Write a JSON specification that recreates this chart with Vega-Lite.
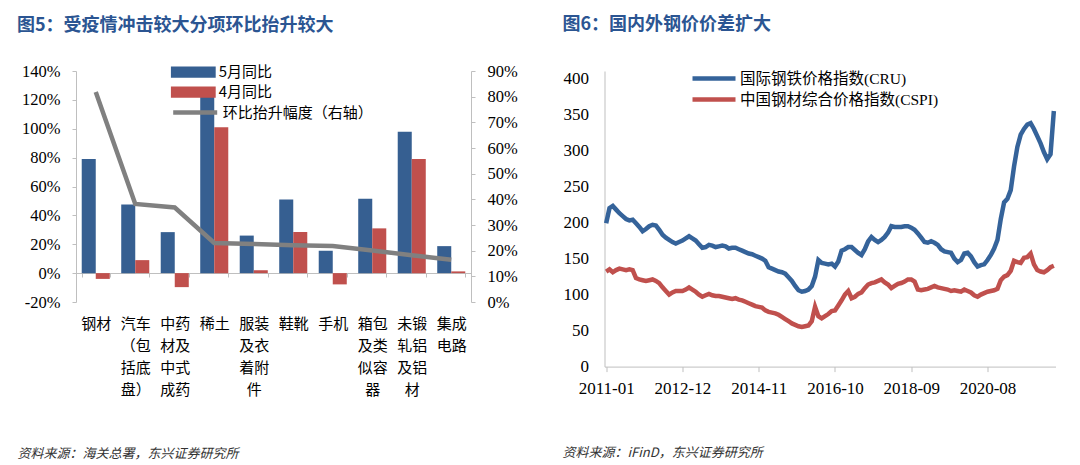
{
"$schema": "https://vega.github.io/schema/vega-lite/v6.json",
"background": "white",
"padding": {"left": 17, "top": 16, "right": 0, "bottom": 0},
"autosize": {"type": "pad"},
"bounds": "flush",
"spacing": 133.5,
"config": {"view": {"stroke": null}, "axis": {"grid": false, "domainColor": "#BFBFBF", "tickColor": "#BFBFBF", "labelColor": "#000000"}},
"resolve": {"scale": {"stroke": "independent"}, "legend": {"stroke": "independent"}},
"datasets": {
"bars": [
{"cat": "钢材", "series": "5月同比", "v": 79},
{"cat": "钢材", "series": "4月同比", "v": -4},
{"cat": "汽车（包括底盘）", "series": "5月同比", "v": 47.5},
{"cat": "汽车（包括底盘）", "series": "4月同比", "v": 9},
{"cat": "中药材及中式成药", "series": "5月同比", "v": 28.4},
{"cat": "中药材及中式成药", "series": "4月同比", "v": -9.7},
{"cat": "稀土", "series": "5月同比", "v": 126},
{"cat": "稀土", "series": "4月同比", "v": 101},
{"cat": "服装及衣着附件", "series": "5月同比", "v": 26},
{"cat": "服装及衣着附件", "series": "4月同比", "v": 2},
{"cat": "鞋靴", "series": "5月同比", "v": 51},
{"cat": "鞋靴", "series": "4月同比", "v": 28.5},
{"cat": "手机", "series": "5月同比", "v": 15.5},
{"cat": "手机", "series": "4月同比", "v": -7.8},
{"cat": "箱包及类似容器", "series": "5月同比", "v": 51.5},
{"cat": "箱包及类似容器", "series": "4月同比", "v": 31},
{"cat": "未锻轧铝及铝材", "series": "5月同比", "v": 98},
{"cat": "未锻轧铝及铝材", "series": "4月同比", "v": 79},
{"cat": "集成电路", "series": "5月同比", "v": 18.7},
{"cat": "集成电路", "series": "4月同比", "v": 1.2}
],
"hb": [
{"cat": "钢材", "hb": 81.8},
{"cat": "汽车（包括底盘）", "hb": 38.2},
{"cat": "中药材及中式成药", "hb": 36.8},
{"cat": "稀土", "hb": 23},
{"cat": "服装及衣着附件", "hb": 22.6},
{"cat": "鞋靴", "hb": 22.1},
{"cat": "手机", "hb": 21.8},
{"cat": "箱包及类似容器", "hb": 20.1},
{"cat": "未锻轧铝及铝材", "hb": 18.2},
{"cat": "集成电路", "hb": 16.5}
],
"steel": [
{"m":"2011-01","cru":199,"cspi":132},{"m":"2011-02","cru":220,"cspi":135},{"m":"2011-03","cru":223,"cspi":131},{"m":"2011-04","cru":218,"cspi":134},{"m":"2011-05","cru":213,"cspi":136},{"m":"2011-06","cru":209,"cspi":135},{"m":"2011-07","cru":205,"cspi":134},{"m":"2011-08","cru":203,"cspi":135},{"m":"2011-09","cru":204,"cspi":134},{"m":"2011-10","cru":199,"cspi":123},{"m":"2011-11","cru":194,"cspi":121},{"m":"2011-12","cru":188,"cspi":120},
{"m":"2012-01","cru":191,"cspi":119},{"m":"2012-02","cru":195,"cspi":120},{"m":"2012-03","cru":197,"cspi":121},{"m":"2012-04","cru":196,"cspi":119},{"m":"2012-05","cru":190,"cspi":116},{"m":"2012-06","cru":183,"cspi":110},{"m":"2012-07","cru":179,"cspi":105},{"m":"2012-08","cru":176,"cspi":100},{"m":"2012-09","cru":173,"cspi":103},{"m":"2012-10","cru":171,"cspi":105},{"m":"2012-11","cru":173,"cspi":105},{"m":"2012-12","cru":175,"cspi":105},
{"m":"2013-01","cru":178,"cspi":107},{"m":"2013-02","cru":181,"cspi":110},{"m":"2013-03","cru":178,"cspi":107},{"m":"2013-04","cru":175,"cspi":104},{"m":"2013-05","cru":170,"cspi":100},{"m":"2013-06","cru":165,"cspi":97},{"m":"2013-07","cru":166,"cspi":99},{"m":"2013-08","cru":169,"cspi":101},{"m":"2013-09","cru":168,"cspi":99},{"m":"2013-10","cru":166,"cspi":98},{"m":"2013-11","cru":167,"cspi":98},{"m":"2013-12","cru":168,"cspi":97},
{"m":"2014-01","cru":167,"cspi":96},{"m":"2014-02","cru":164,"cspi":95},{"m":"2014-03","cru":165,"cspi":94},{"m":"2014-04","cru":165,"cspi":95},{"m":"2014-05","cru":163,"cspi":93},{"m":"2014-06","cru":161,"cspi":92},{"m":"2014-07","cru":159,"cspi":90},{"m":"2014-08","cru":157,"cspi":88},{"m":"2014-09","cru":156,"cspi":86},{"m":"2014-10","cru":154,"cspi":84},{"m":"2014-11","cru":152,"cspi":83},{"m":"2014-12","cru":150,"cspi":82},
{"m":"2015-01","cru":147,"cspi":78},{"m":"2015-02","cru":138,"cspi":76},{"m":"2015-03","cru":136,"cspi":75},{"m":"2015-04","cru":134,"cspi":74},{"m":"2015-05","cru":132,"cspi":72},{"m":"2015-06","cru":131,"cspi":69},{"m":"2015-07","cru":129,"cspi":66},{"m":"2015-08","cru":124,"cspi":63},{"m":"2015-09","cru":119,"cspi":60},{"m":"2015-10","cru":112,"cspi":58},{"m":"2015-11","cru":106,"cspi":56},{"m":"2015-12","cru":104,"cspi":55},
{"m":"2016-01","cru":105,"cspi":56},{"m":"2016-02","cru":107,"cspi":57},{"m":"2016-03","cru":112,"cspi":63},{"m":"2016-04","cru":125,"cspi":83},{"m":"2016-05","cru":148,"cspi":70},{"m":"2016-06","cru":144,"cspi":67},{"m":"2016-07","cru":143,"cspi":70},{"m":"2016-08","cru":142,"cspi":73},{"m":"2016-09","cru":143,"cspi":77},{"m":"2016-10","cru":139,"cspi":78},{"m":"2016-11","cru":146,"cspi":85},{"m":"2016-12","cru":161,"cspi":92},
{"m":"2017-01","cru":163,"cspi":100},{"m":"2017-02","cru":166,"cspi":105},{"m":"2017-03","cru":166,"cspi":95},{"m":"2017-04","cru":162,"cspi":97},{"m":"2017-05","cru":158,"cspi":101},{"m":"2017-06","cru":155,"cspi":103},{"m":"2017-07","cru":163,"cspi":109},{"m":"2017-08","cru":174,"cspi":114},{"m":"2017-09","cru":180,"cspi":116},{"m":"2017-10","cru":176,"cspi":117},{"m":"2017-11","cru":173,"cspi":119},{"m":"2017-12","cru":176,"cspi":121},
{"m":"2018-01","cru":180,"cspi":117},{"m":"2018-02","cru":186,"cspi":114},{"m":"2018-03","cru":195,"cspi":109},{"m":"2018-04","cru":194,"cspi":112},{"m":"2018-05","cru":194,"cspi":115},{"m":"2018-06","cru":194,"cspi":116},{"m":"2018-07","cru":195,"cspi":118},{"m":"2018-08","cru":195,"cspi":121},{"m":"2018-09","cru":193,"cspi":121},{"m":"2018-10","cru":190,"cspi":118},{"m":"2018-11","cru":185,"cspi":107},{"m":"2018-12","cru":179,"cspi":106},
{"m":"2019-01","cru":173,"cspi":107},{"m":"2019-02","cru":172,"cspi":108},{"m":"2019-03","cru":174,"cspi":110},{"m":"2019-04","cru":172,"cspi":112},{"m":"2019-05","cru":169,"cspi":110},{"m":"2019-06","cru":163,"cspi":109},{"m":"2019-07","cru":160,"cspi":108},{"m":"2019-08","cru":159,"cspi":107},{"m":"2019-09","cru":158,"cspi":105},{"m":"2019-10","cru":150,"cspi":106},{"m":"2019-11","cru":145,"cspi":105},{"m":"2019-12","cru":148,"cspi":104},
{"m":"2020-01","cru":157,"cspi":107},{"m":"2020-02","cru":158,"cspi":105},{"m":"2020-03","cru":153,"cspi":103},{"m":"2020-04","cru":145,"cspi":99},{"m":"2020-05","cru":139,"cspi":97},{"m":"2020-06","cru":141,"cspi":100},{"m":"2020-07","cru":142,"cspi":102},{"m":"2020-08","cru":148,"cspi":104},{"m":"2020-09","cru":155,"cspi":105},{"m":"2020-10","cru":164,"cspi":106},{"m":"2020-11","cru":176,"cspi":108},{"m":"2020-12","cru":205,"cspi":120},
{"m":"2021-01","cru":228,"cspi":125},{"m":"2021-02","cru":233,"cspi":127},{"m":"2021-03","cru":245,"cspi":133},{"m":"2021-04","cru":278,"cspi":147},{"m":"2021-05","cru":305,"cspi":145},{"m":"2021-06","cru":322,"cspi":144},{"m":"2021-07","cru":330,"cspi":151},{"m":"2021-08","cru":336,"cspi":152},{"m":"2021-09","cru":338,"cspi":157},{"m":"2021-10","cru":330,"cspi":142},{"m":"2021-11","cru":320,"cspi":134},{"m":"2021-12","cru":310,"cspi":132},
{"m":"2022-01","cru":298,"cspi":131},{"m":"2022-02","cru":288,"cspi":134},{"m":"2022-03","cru":295,"cspi":138},{"m":"2022-04","cru":355,"cspi":140}
]
},
"hconcat": [
{
"width": 395,
"height": 231,
"title": {"text": "图5：受疫情冲击较大分项环比抬升较大", "anchor": "start", "frame": "group", "dx": -59, "offset": 10, "baseline": "bottom", "font": "Noto Sans CJK SC", "fontSize": 18, "fontWeight": "bold", "color": "#2B5592"},
"layer": [
{
"data": {"name": "bars"},
"mark": {"type": "bar"},
"encoding": {
"x": {"field": "cat", "type": "nominal", "sort": null,
"scale": {"domain": ["钢材", "汽车（包括底盘）", "中药材及中式成药", "稀土", "服装及衣着附件", "鞋靴", "手机", "箱包及类似容器", "未锻轧铝及铝材", "集成电路"], "paddingInner": 0.29, "paddingOuter": 0.145},
"axis": {"title": "资料来源：海关总署，东兴证券研究所", "titleX": -59, "titleY": 180, "titleAlign": "left", "titleAnchor": "start", "titleBaseline": "middle", "titleFont": "Noto Sans CJK SC", "titleFontStyle": "italic", "titleFontWeight": "normal", "titleFontSize": 13, "titleColor": "#333333",
"offset": -29, "tickBand": "extent", "tickSize": 4, "labelPadding": 39, "labelAngle": 0, "labelOverlap": false, "labelBaseline": "top",
"labelExpr": "[substring(datum.label,0,2), substring(datum.label,2,4), substring(datum.label,4,6), substring(datum.label,6,8)]",
"labelFont": "Noto Sans CJK SC", "labelFontSize": 15, "labelLineHeight": 22}},
"xOffset": {"field": "series", "type": "nominal", "scale": {"domain": ["5月同比", "4月同比"]}},
"y": {"field": "v", "type": "quantitative", "scale": {"domain": [-20, 140], "nice": false, "zero": false},
"axis": {"title": null, "values": [-20, 0, 20, 40, 60, 80, 100, 120, 140], "labelExpr": "datum.value + '%'", "labelFont": "Times New Roman, Liberation Serif", "labelFontSize": 16.5, "tickSize": 4, "labelPadding": 12}},
"fill": {"field": "series", "type": "nominal", "scale": {"domain": ["5月同比", "4月同比"], "range": ["#365F91", "#C0504D"]},
"legend": {"orient": "none", "legendX": 94.7, "legendY": -9, "title": null, "symbolType": "M-1,-0.25H1V0.25H-1Z", "symbolSize": 2025, "symbolStrokeWidth": 0, "clipHeight": 20, "rowPadding": 0, "labelOffset": 3, "labelFont": "Noto Sans CJK SC", "labelFontSize": 15, "labelColor": "#000000", "labelLimit": 300}}
}
},
{
"data": {"name": "hb"},
"mark": {"type": "line", "strokeWidth": 4.5},
"encoding": {
"x": {"field": "cat", "type": "nominal", "sort": null},
"y": {"field": "hb", "type": "quantitative", "scale": {"domain": [0, 90], "nice": false},
"axis": {"orient": "right", "title": null, "values": [0, 10, 20, 30, 40, 50, 60, 70, 80, 90], "labelExpr": "datum.value + '%'", "labelFont": "Times New Roman, Liberation Serif", "labelFontSize": 16.5, "tickSize": 4, "labelPadding": 12}},
"stroke": {"datum": "环比抬升幅度（右轴）", "type": "nominal", "scale": {"range": ["#808080"]},
"legend": {"orient": "none", "legendX": 94.7, "legendY": 31.6, "title": null, "symbolType": "M-1,0H1", "symbolSize": 1936, "symbolStrokeWidth": 4.5, "clipHeight": 20, "labelOffset": 3, "labelFont": "Noto Sans CJK SC", "labelFontSize": 15, "labelColor": "#000000", "labelLimit": 300}}
}
}
],
"resolve": {"scale": {"y": "independent"}}
},
{
"width": 451,
"height": 295.6,
"title": {"text": "图6：国内外钢价价差扩大", "anchor": "start", "frame": "group", "dx": -42, "offset": 17, "baseline": "bottom", "font": "Noto Sans CJK SC", "fontSize": 18, "fontWeight": "bold", "color": "#2B5592"},
"data": {"name": "steel"},
"encoding": {
"x": {"field": "m", "type": "ordinal", "scale": {"type": "point", "padding": 0.5},
"axis": {"values": ["2011-01", "2012-12", "2014-11", "2016-10", "2018-09", "2020-08"], "title": "资料来源：iFinD，东兴证券研究所", "titleX": -42.5, "titleY": 86, "titleAlign": "left", "titleAnchor": "start", "titleBaseline": "middle", "titleFont": "Noto Sans CJK SC", "titleFontStyle": "italic", "titleFontWeight": "normal", "titleFontSize": 13, "titleColor": "#333333",
"labelAngle": 0, "labelFont": "Times New Roman, Liberation Serif", "labelFontSize": 17, "tickSize": 5, "labelPadding": 9}}
},
"layer": [
{
"mark": {"type": "line", "strokeWidth": 4.5},
"encoding": {
"y": {"field": "cru", "type": "quantitative", "scale": {"domain": [0, 410.5], "nice": false},
"axis": {"title": null, "values": [0, 50, 100, 150, 200, 250, 300, 350, 400], "labelFont": "Times New Roman, Liberation Serif", "labelFontSize": 17, "ticks": false, "labelPadding": 16}},
"stroke": {"datum": "国际钢铁价格指数(CRU)", "type": "nominal",
"scale": {"domain": ["国际钢铁价格指数(CRU)", "中国钢材综合价格指数(CSPI)"], "range": ["#35639A", "#C0504D"]},
"legend": {"orient": "none", "legendX": 85.5, "legendY": -2, "title": null, "symbolType": "M-1,0H1", "symbolSize": 1849, "symbolStrokeWidth": 4.5, "clipHeight": 19, "labelOffset": 2, "labelFont": "Times New Roman, Liberation Serif, Noto Sans CJK SC", "labelFontSize": 15.5, "labelColor": "#000000", "labelLimit": 400}}
}
},
{
"mark": {"type": "line", "strokeWidth": 4.5},
"encoding": {
"y": {"field": "cspi", "type": "quantitative", "axis": {"title": null, "values": [0, 50, 100, 150, 200, 250, 300, 350, 400], "labelFont": "Times New Roman, Liberation Serif", "labelFontSize": 17, "ticks": false, "labelPadding": 16}},
"stroke": {"datum": "中国钢材综合价格指数(CSPI)", "type": "nominal"}
}
}
]
}
]
}
